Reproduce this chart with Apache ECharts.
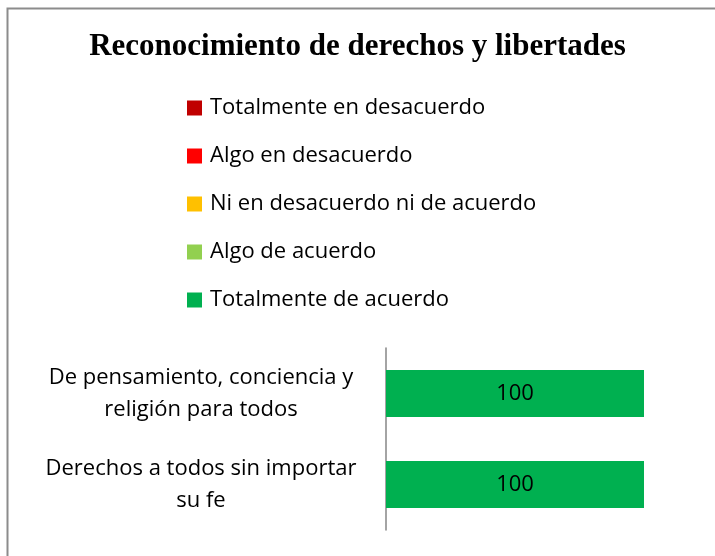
<!DOCTYPE html>
<html><head><meta charset="utf-8">
<script src="https://cdn.jsdelivr.net/npm/echarts@6/dist/echarts.min.js"></script>
<style>html,body{margin:0;padding:0;background:#fff}#c{width:715px;height:556px}</style>
</head><body><div id="c"></div>
<script>
const titleText = 'Reconocimiento de derechos y libertades';
const categories = ['De pensamiento, conciencia y\nreligión para todos', 'Derechos a todos sin importar\nsu fe'];
const seriesNames = ['Totalmente en desacuerdo', 'Algo en desacuerdo', 'Ni en desacuerdo ni de acuerdo', 'Algo de acuerdo', 'Totalmente de acuerdo'];
const seriesColors = ['#C00000', '#FF0000', '#FFC000', '#92D050', '#00B050'];
const totDesacuerdo = [0, 0];
const algoDesacuerdo = [0, 0];
const niNi = [0, 0];
const algoAcuerdo = [0, 0];
const totAcuerdo = [100, 100];
const seriesValues = [totDesacuerdo, algoDesacuerdo, niNi, algoAcuerdo, totAcuerdo];

const font = '"Open Sans", sans-serif';
const chart = echarts.init(document.getElementById('c'));
chart.setOption({
  animation: false,
  graphic: [{
    type: 'rect', left: 5, top: 6, z: -1,
    shape: { width: 720, height: 560 },
    style: { fill: 'none', stroke: '#8c8c8c', lineWidth: 2 }
  }],
  title: {
    text: titleText, left: 'center', top: 26,
    textStyle: { fontFamily: '"Liberation Serif", serif', fontWeight: 'bold', fontSize: 31, color: '#000' }
  },
  legend: {
    orient: 'vertical', left: 182, top: 92, itemGap: 26,
    itemWidth: 15, itemHeight: 15, icon: 'rect',
    textStyle: { fontFamily: font, fontSize: 22, color: '#000', padding: [0, 0, 0, 3] },
    data: seriesNames
  },
  grid: { left: 386, right: 71, top: 348, bottom: 26, containLabel: false },
  xAxis: { type: 'value', min: 0, max: 100, show: false },
  yAxis: {
    type: 'category', data: categories, inverse: true,
    axisLine: { show: true, lineStyle: { color: '#868686', width: 1.5 } },
    axisTick: { show: false },
    axisLabel: { fontFamily: font, fontSize: 22, color: '#000', lineHeight: 32, align: 'center', margin: 185 }
  },
  series: seriesNames.map((n, i) => ({
    name: n, type: 'bar', stack: 'total', barWidth: 47,
    itemStyle: { color: seriesColors[i] },
    label: { show: true, formatter: p => p.value > 0 ? String(p.value) : '', fontFamily: font, fontSize: 22, color: '#000' },
    data: seriesValues[i]
  }))
});
</script></body></html>
